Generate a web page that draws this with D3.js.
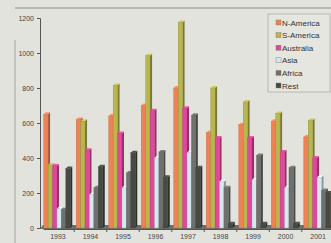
<!DOCTYPE html>
<html>
<head>
<meta charset="utf-8">
<script src="https://cdn.jsdelivr.net/npm/d3@7"></script>
<style>
  body { margin: 0; background: #e3e3de; }
  svg { display: block; font-family: "Liberation Sans", Arial, sans-serif; }
</style>
</head>
<body>
<svg id="chart"></svg>
<script>
const years = ["1993", "1994", "1995", "1996", "1997", "1998", "1999", "2000", "2001"];
const seriesNames = ["N-America", "S-America", "Australia", "Asia", "Africa", "Rest"];
const nAmerica = [650, 620, 640, 700, 800, 545, 590, 610, 520];
const sAmerica = [360, 610, 815, 985, 1175, 800, 720, 655, 615];
const australia = [355, 445, 540, 670, 685, 515, 515, 435, 400];
const asia = [110, 190, 230, 400, 430, 265, 275, 230, 290];
const africa = [105, 230, 315, 435, 645, 230, 415, 345, 215];
const rest = [340, 350, 430, 290, 345, 25, 25, 25, 200];
const yTicks = [0, 200, 400, 600, 800, 1000, 1200];
const colors = ["#ef8255", "#b9b64e", "#e0489c", "#d6e8ee", "#6f716d", "#454a44"];

const values = [nAmerica, sAmerica, australia, asia, africa, rest];

const chartW = 331;
const chartH = 243;
const plotLeft = 40;
const plotRight = 331;
const plotTop = 18;
const plotBottom = 228;
const dx = 2, dy = 2; // 3d depth

const svg = d3.select("#chart").attr("width", chartW).attr("height", chartH);

// scan border lines
svg.append("line").attr("x1", 15).attr("x2", 331).attr("y1", 8).attr("y2", 8)
    .attr("stroke", "#8a8a86").attr("stroke-width", 1);
svg.append("line").attr("x1", 15).attr("x2", 15).attr("y1", 40).attr("y2", 243)
    .attr("stroke", "#a4a4a0").attr("stroke-width", 1);

const y = d3.scaleLinear().domain([0, 1200]).range([plotBottom, plotTop]);
const x0 = d3.scaleBand().domain(years).range([43, 333]).paddingInner(0.12).paddingOuter(0.02);
const x1 = d3.scaleBand().domain(seriesNames).range([0, x0.bandwidth() - dx]);

// floor
svg.append("path")
    .attr("d", "M" + plotLeft + "," + (plotBottom + 1) + "L" + plotRight + "," + (plotBottom + 1)
        + "L" + plotRight + "," + (plotBottom - 3) + "L" + (plotLeft + 3) + "," + (plotBottom - 3) + "Z")
    .attr("fill", "#6b6d69");

// y axis
const yAxis = svg.append("g")
    .attr("transform", "translate(" + plotLeft + ",0)")
    .call(d3.axisLeft(y).tickValues(yTicks).tickFormat(d3.format("d")).tickSize(3).tickPadding(3));
yAxis.select(".domain").attr("stroke", "#555");
yAxis.selectAll(".tick line").attr("stroke", "#555");
yAxis.selectAll(".tick text").attr("font-size", 7).attr("fill", "#444");

// bars
const groups = svg.selectAll("g.year").data(years).enter().append("g")
    .attr("class", "year")
    .attr("transform", d => "translate(" + x0(d) + ",0)");

years.forEach((yr, i) => {
    const g = groups.filter(d => d === yr);
    seriesNames.forEach((s, j) => {
        const v = values[j][i];
        const bx = x1(s);
        const bw = x1.bandwidth();
        const by = y(v);
        const c = d3.color(colors[j]);
        // side
        g.append("path")
            .attr("d", "M" + (bx + bw) + "," + by + "L" + (bx + bw + dx) + "," + (by - dy)
                + "L" + (bx + bw + dx) + "," + (plotBottom - dy) + "L" + (bx + bw) + "," + plotBottom + "Z")
            .attr("fill", c.darker(1.2));
        // top
        g.append("path")
            .attr("d", "M" + bx + "," + by + "L" + (bx + dx) + "," + (by - dy)
                + "L" + (bx + bw + dx) + "," + (by - dy) + "L" + (bx + bw) + "," + by + "Z")
            .attr("fill", c.brighter(0.3));
        // front
        g.append("rect")
            .attr("x", bx).attr("y", by)
            .attr("width", bw).attr("height", plotBottom - by)
            .attr("fill", colors[j])
            .attr("stroke", c.darker(0.8)).attr("stroke-width", 0.3);
    });
});

// x axis
const xAxis = svg.append("g")
    .attr("transform", "translate(0," + (plotBottom + 1) + ")")
    .call(d3.axisBottom(x0).tickSize(0).tickPadding(5));
xAxis.select(".domain").attr("stroke", "#555");
xAxis.selectAll(".tick text").attr("font-size", 7).attr("fill", "#444");
svg.append("g").selectAll("line").data(years.slice(1)).enter().append("line")
    .attr("x1", d => x0(d) - x0.step() * x0.paddingInner() / 2)
    .attr("x2", d => x0(d) - x0.step() * x0.paddingInner() / 2)
    .attr("y1", plotBottom + 1).attr("y2", plotBottom + 4)
    .attr("stroke", "#555");

// legend
const legend = svg.append("g").attr("transform", "translate(268,14)");
legend.append("rect").attr("width", 62).attr("height", 78)
    .attr("fill", "#e6e6e1").attr("stroke", "#9a9a96").attr("stroke-width", 0.6);
const items = legend.selectAll("g.item").data(seriesNames).enter().append("g")
    .attr("class", "item")
    .attr("transform", (d, i) => "translate(8," + (9 + i * 12.6) + ")");
items.append("rect").attr("x", 0).attr("y", -3).attr("width", 5).attr("height", 5)
    .attr("fill", (d, i) => colors[i]).attr("stroke", "#777").attr("stroke-width", 0.4);
items.append("text").attr("x", 6).attr("y", 2.5)
    .attr("font-size", 8).attr("fill", "#333")
    .text(d => d);
</script>
</body>
</html>
